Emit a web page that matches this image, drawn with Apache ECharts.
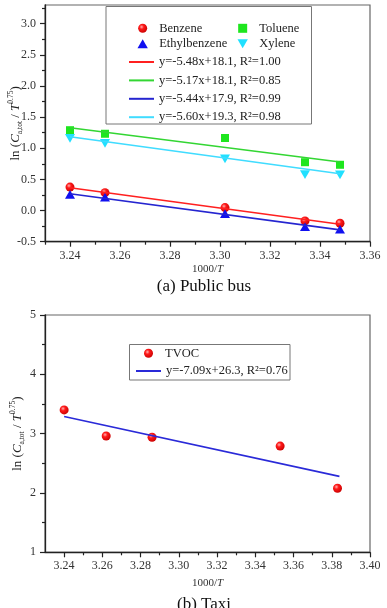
<!DOCTYPE html>
<html>
<head>
<meta charset="utf-8">
<script src="https://cdn.jsdelivr.net/npm/echarts@6/dist/echarts.min.js"></script>
<style>
  html, body { margin: 0; padding: 0; background: #fff; }
  #chart { width: 387px; height: 608px; }
</style>
</head>
<body>
<div id="chart"></div>
<script>
// (a) public bus
var busX = [3.240, 3.254, 3.302, 3.334, 3.348];
var benzene = [0.377, 0.287, 0.048, -0.166, -0.203];
var ethylbenzene = [0.26, 0.217, -0.048, -0.26, -0.30];
var toluene = [1.29, 1.233, 1.165, 0.776, 0.735];
var xylene = [1.16, 1.08, 0.83, 0.578, 0.572];
var fitX = [3.24, 3.348];
var fitBenzene = [0.367, -0.22];
var fitToluene = [1.33, 0.78];
var fitEthyl = [0.27, -0.31];
var fitXylene = [1.185, 0.59];
var busFitNames = ['y=-5.48x+18.1, R²=1.00', 'y=-5.17x+18.1, R²=0.85', 'y=-5.44x+17.9, R²=0.99', 'y=-5.60x+19.3, R²=0.98'];
var busXTicks = [3.24, 3.26, 3.28, 3.30, 3.32, 3.34, 3.36];
var busXMinor = [3.23, 3.25, 3.27, 3.29, 3.31, 3.33, 3.35];
var busYTicks = [-0.5, 0, 0.5, 1.0, 1.5, 2.0, 2.5, 3.0];
var busYMinor = [-0.25, 0.25, 0.75, 1.25, 1.75, 2.25, 2.75, 3.25];

// (b) taxi
var taxiX = [3.240, 3.262, 3.286, 3.353, 3.383];
var tvoc = [3.40, 2.96, 2.94, 2.79, 2.08];
var taxiFitX = [3.24, 3.384];
var taxiFit = [3.29, 2.28];
var taxiFitName = 'y=-7.09x+26.3, R²=0.76';
var taxiXTicks = [3.24, 3.26, 3.28, 3.30, 3.32, 3.34, 3.36, 3.38, 3.40];
var taxiXMinor = [3.25, 3.27, 3.29, 3.31, 3.33, 3.35, 3.37, 3.39];
var taxiYTicks = [1, 2, 3, 4, 5];
var taxiYMinor = [1.5, 2.5, 3.5, 4.5];

var serif = 'Liberation Serif';
var pairs = function (xs, ys) { return xs.map(function (x, i) { return [x, ys[i]]; }); };

var sphere = {
  type: 'radial', x: 0.38, y: 0.35, r: 0.7,
  colorStops: [{ offset: 0, color: '#ffb0b0' }, { offset: 0.35, color: '#ff1a1a' }, { offset: 1, color: '#c80000' }]
};
var square = 'path://M0,0L10,0L10,10L0,10Z';
var triUp = 'path://M5,0L10,8.7L0,8.7Z';
var triDown = 'path://M0,0L10,0L5,8.7Z';

function majorX(grid, min, max, ticks, gap) {
  return {
    type: 'value', gridIndex: grid, min: min, max: max, position: 'bottom',
    name: '1000/{i|T}', nameLocation: 'middle', nameGap: gap,
    nameTextStyle: { fontFamily: serif, fontSize: 11, color: '#333', rich: { i: { fontFamily: serif, fontSize: 11, fontStyle: 'italic', color: '#333' } } },
    axisLine: { onZero: false, lineStyle: { color: '#222', width: 1.3 } },
    axisTick: { customValues: ticks, length: 5, lineStyle: { color: '#222', width: 1.2 } },
    axisLabel: { customValues: ticks, margin: 8, fontFamily: serif, fontSize: 12, color: '#333',
      formatter: function (v) { return v.toFixed(2); } },
    splitLine: { show: false }
  };
}
function minorAxis(grid, min, max, ticks, pos) {
  return {
    type: 'value', gridIndex: grid, min: min, max: max, position: pos,
    axisLine: { show: false, onZero: false },
    axisTick: { customValues: ticks, length: 3, lineStyle: { color: '#222', width: 1.2 } },
    axisLabel: { show: false },
    splitLine: { show: false }
  };
}
function majorY(grid, min, max, ticks, digits, gap) {
  return {
    type: 'value', gridIndex: grid, min: min, max: max, position: 'left',
    name: 'ln ({i|C}{sub|a,tot} / {i|T}{sup|0.75})', nameLocation: 'middle', nameGap: gap,
    nameMoveOverlap: false,
    nameTextStyle: {
      fontFamily: serif, fontSize: 13, color: '#222', lineHeight: 17,
      rich: {
        i: { fontFamily: serif, fontSize: 13, fontStyle: 'italic', color: '#222', lineHeight: 17 },
        sub: { fontFamily: serif, fontSize: 7.5, color: '#222', lineHeight: 7, verticalAlign: 'bottom' },
        sup: { fontFamily: serif, fontSize: 7.5, color: '#222', lineHeight: 7, verticalAlign: 'top' }
      }
    },
    axisLine: { onZero: false, lineStyle: { color: '#222', width: 1.3 } },
    axisTick: { customValues: ticks, length: 5, lineStyle: { color: '#222', width: 1.2 } },
    axisLabel: { customValues: ticks, margin: 9, fontFamily: serif, fontSize: 12, color: '#333',
      formatter: function (v) { return v.toFixed(digits); } },
    splitLine: { show: false }
  };
}

var legendText = { fontFamily: serif, fontSize: 12.5, color: '#222', lineHeight: 14 };
function legend(names, left, top, w, h, gap, hideSymbol) {
  var lg = { data: names, orient: 'vertical', left: left, top: top, itemWidth: w, itemHeight: h,
    itemGap: gap, padding: 0, selectedMode: false, textStyle: legendText };
  if (hideSymbol) lg.itemStyle = { opacity: 0 };
  return lg;
}
function fitLine(name, xs, ys, color, xi, yi) {
  return { name: name, type: 'line', xAxisIndex: xi, yAxisIndex: yi, data: pairs(xs, ys),
    symbol: 'none', showSymbol: false, lineStyle: { color: color, width: 1.6 }, itemStyle: { color: color } };
}
function dots(name, xs, ys, symbol, size, color, xi, yi) {
  return { name: name, type: 'scatter', xAxisIndex: xi, yAxisIndex: yi, data: pairs(xs, ys),
    symbol: symbol, symbolSize: size, symbolKeepAspect: true, itemStyle: { color: color, opacity: 1 } };
}

var chart = echarts.init(document.getElementById('chart'));
chart.setOption({
  backgroundColor: '#fff',
  animation: false,
  grid: [
    { left: 45, right: 17, top: 5, height: 236.7, show: true, borderColor: '#666', borderWidth: 1.2,
      containLabel: false, outerBoundsMode: 'none' },
    { left: 45, right: 17, top: 315, height: 237.3, show: true, borderColor: '#666', borderWidth: 1.2,
      containLabel: false, outerBoundsMode: 'none' }
  ],
  xAxis: [
    majorX(0, 3.23, 3.36, busXTicks, 22),
    minorAxis(0, 3.23, 3.36, busXMinor, 'bottom'),
    majorX(1, 3.23, 3.40, taxiXTicks, 25),
    minorAxis(1, 3.23, 3.40, taxiXMinor, 'bottom')
  ],
  yAxis: [
    majorY(0, -0.5, 3.3, busYTicks, 1, 21),
    minorAxis(0, -0.5, 3.3, busYMinor, 'left'),
    majorY(1, 1, 5, taxiYTicks, 0, 19),
    minorAxis(1, 1, 5, taxiYMinor, 'left')
  ],
  legend: [
    legend(['Benzene', 'Ethylbenzene'], 137.5, 21.3, 23, 9, 1.4),
    legend(['Toluene', 'Xylene'], 237.5, 21.3, 23, 9, 1.4),
    legend(busFitNames, 128, 55, 25, 8, 4.4, true),
    legend(['TVOC'], 144, 346.3, 23, 9, 1),
    legend([taxiFitName], 135, 364, 25, 8, 1, true)
  ],
  graphic: [
    { type: 'rect', shape: { x: 106, y: 6.5, width: 205.5, height: 117.5 }, style: { fill: 'transparent', stroke: '#777', lineWidth: 1 } },
    { type: 'rect', shape: { x: 129.5, y: 344.5, width: 160.5, height: 35.5 }, style: { fill: 'transparent', stroke: '#777', lineWidth: 1 } },
    { type: 'text', x: 204, y: 287, style: { text: '(a) Public bus', fontFamily: serif, fontSize: 17, fill: '#111', align: 'center', verticalAlign: 'middle' } },
    { type: 'text', x: 204, y: 605, style: { text: '(b) Taxi', fontFamily: serif, fontSize: 17, fill: '#111', align: 'center', verticalAlign: 'middle' } }
  ],
  series: [
    fitLine(busFitNames[0], fitX, fitBenzene, '#ff2020', 0, 0),
    fitLine(busFitNames[1], fitX, fitToluene, '#33d633', 0, 0),
    fitLine(busFitNames[2], fitX, fitEthyl, '#2525d0', 0, 0),
    fitLine(busFitNames[3], fitX, fitXylene, '#40dcff', 0, 0),
    dots('Benzene', busX, benzene, 'circle', 9, sphere, 0, 0),
    dots('Toluene', busX, toluene, square, 8, '#1ee61e', 0, 0),
    dots('Ethylbenzene', busX, ethylbenzene, triUp, 10, '#1010f0', 0, 0),
    dots('Xylene', busX, xylene, triDown, 10, '#20e0ff', 0, 0),
    fitLine(taxiFitName, taxiFitX, taxiFit, '#2a2ad8', 2, 2),
    dots('TVOC', taxiX, tvoc, 'circle', 9, sphere, 2, 2)
  ]
});
</script>
</body>
</html>
